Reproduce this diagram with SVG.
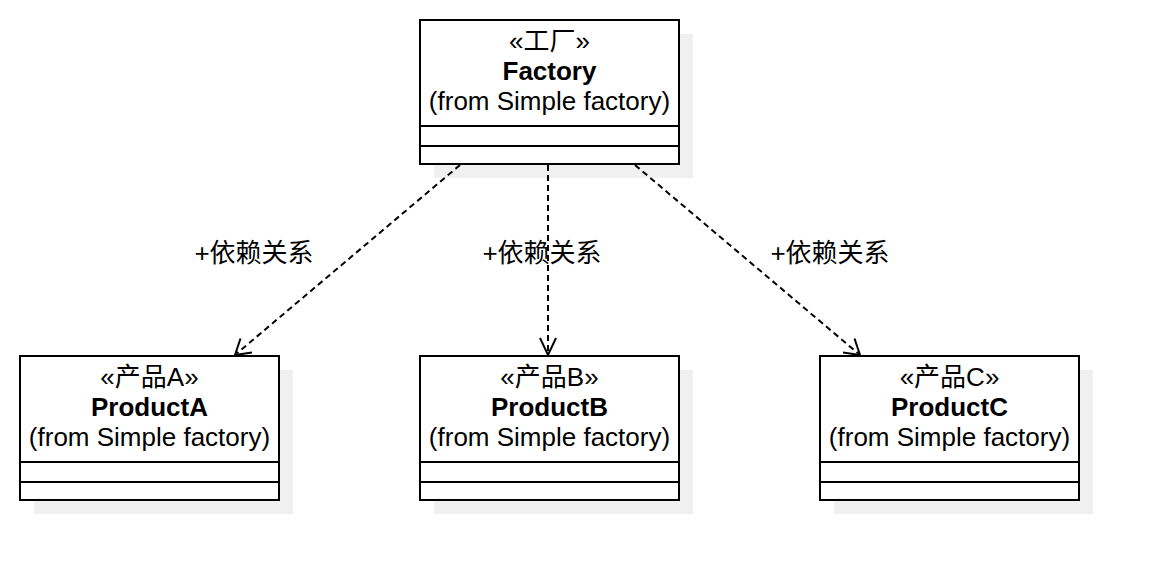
<svg xmlns="http://www.w3.org/2000/svg" width="1158" height="580" viewBox="0 0 1158 580">
<style>
.shadow{fill:#f0f0f0;stroke:none}
.box{fill:#ffffff;stroke:#000000;stroke-width:2}
.sep{stroke:#000000;stroke-width:2}
.t{font-family:"Liberation Sans","Noto Sans CJK SC",sans-serif;font-size:26px;fill:#000000;text-anchor:middle}
.b{font-weight:bold}
.dep{fill:none;stroke:#000000;stroke-width:2;stroke-dasharray:6 4}
.head{fill:none;stroke:#000000;stroke-width:2}
.lbl{font-family:"Liberation Sans","Noto Sans CJK SC",sans-serif;font-size:26px;fill:#000000;text-anchor:middle}
</style>
<rect width="1158" height="580" fill="#ffffff"/>
<g id="factory">
<rect class="shadow" x="434" y="34" width="259" height="144"/>
<rect class="box" x="420" y="20" width="259" height="144"/>
<line class="sep" x1="420" y1="126" x2="679" y2="126"/>
<line class="sep" x1="420" y1="146" x2="679" y2="146"/>
<text class="t" x="549.5" y="50">«工厂»</text>
<text class="t b" x="549.5" y="80">Factory</text>
<text class="t" x="549.5" y="110">(from Simple factory)</text>
</g>
<g id="productA">
<rect class="shadow" x="34" y="370" width="259" height="144"/>
<rect class="box" x="20" y="356" width="259" height="144"/>
<line class="sep" x1="20" y1="462" x2="279" y2="462"/>
<line class="sep" x1="20" y1="482" x2="279" y2="482"/>
<text class="t" x="149.5" y="386">«产品A»</text>
<text class="t b" x="149.5" y="416">ProductA</text>
<text class="t" x="149.5" y="446">(from Simple factory)</text>
</g>
<g id="productB">
<rect class="shadow" x="434" y="370" width="259" height="144"/>
<rect class="box" x="420" y="356" width="259" height="144"/>
<line class="sep" x1="420" y1="462" x2="679" y2="462"/>
<line class="sep" x1="420" y1="482" x2="679" y2="482"/>
<text class="t" x="549.5" y="386">«产品B»</text>
<text class="t b" x="549.5" y="416">ProductB</text>
<text class="t" x="549.5" y="446">(from Simple factory)</text>
</g>
<g id="productC">
<rect class="shadow" x="834" y="370" width="259" height="144"/>
<rect class="box" x="820" y="356" width="259" height="144"/>
<line class="sep" x1="820" y1="462" x2="1079" y2="462"/>
<line class="sep" x1="820" y1="482" x2="1079" y2="482"/>
<text class="t" x="949.5" y="386">«产品C»</text>
<text class="t b" x="949.5" y="416">ProductC</text>
<text class="t" x="949.5" y="446">(from Simple factory)</text>
</g>
<g id="connectors">
<line class="dep" x1="460" y1="165" x2="235" y2="355"/>
<polyline class="head" points="252,352.5 235,355 240.5,338.5"/>
<text class="lbl" x="254" y="262">+依赖关系</text>
<line class="dep" x1="548" y1="165" x2="548" y2="355"/>
<polyline class="head" points="540,338 548,355 556,338"/>
<text class="lbl" x="542" y="262">+依赖关系</text>
<line class="dep" x1="635" y1="165" x2="860" y2="355"/>
<polyline class="head" points="843,352.5 860,355 854.5,338.5"/>
<text class="lbl" x="830" y="262">+依赖关系</text>
</g>
</svg>
